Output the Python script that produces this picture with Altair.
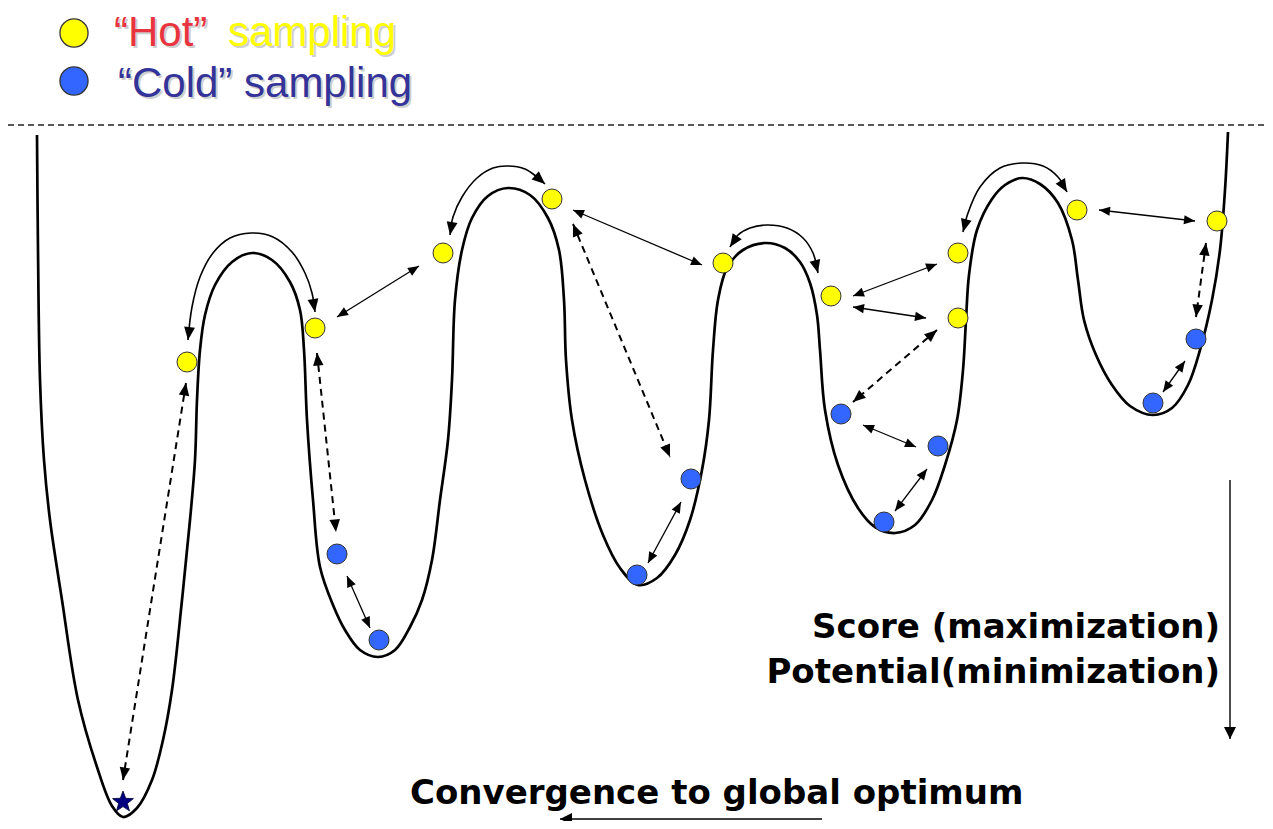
import math
import altair as alt
import pandas as pd

# ---------------- data (pixel-like units) ----------------
W, H = 1257, 813
X0, X1 = 8, 1265
Y0, Y1 = 8, 821

curve_x = [37, 38, 40, 44, 50, 62, 78, 97, 112, 123, 137, 152, 163, 172, 182, 190, 195, 197, 200, 205,
           215, 232, 252, 272, 290, 300, 304, 307, 313, 320, 333, 345, 360, 378, 395, 410, 422, 432, 440, 448,
           452, 455, 462, 472, 488, 508, 530, 548, 559, 564, 566, 572, 585, 603, 620, 638, 657, 675, 690, 702,
           709, 713, 718, 727, 743, 765, 785, 800, 810, 817, 820, 825, 838, 858, 875, 895, 915, 932, 945, 957,
           963, 966, 969, 977, 992, 1005, 1022, 1040, 1058, 1072, 1078, 1084, 1096, 1112, 1130, 1153, 1172, 1188, 1200, 1212,
           1220, 1225, 1228]
curve_y = [135, 250, 380, 460, 520, 600, 700, 767, 806, 817, 808, 780, 740, 690, 600, 520, 460, 400, 350, 315,
           285, 262, 253, 260, 282, 310, 350, 420, 500, 567, 605, 630, 650, 657, 650, 627, 600, 560, 500, 440,
           380, 300, 250, 218, 196, 188, 195, 218, 250, 300, 360, 420, 480, 535, 568, 585, 578, 555, 520, 470,
           420, 350, 300, 268, 250, 243, 248, 262, 283, 315, 350, 410, 465, 508, 527, 533, 525, 500, 465, 420,
           370, 320, 275, 230, 199, 185, 178, 184, 203, 240, 280, 320, 355, 385, 406, 415, 408, 385, 350, 300,
           250, 190, 132]

# curved "jump" arrows over the barriers
arc1_x = [188, 192, 200, 213, 230, 251, 273, 292, 305, 312, 315]
arc1_y = [340, 307, 277, 253, 238, 233, 237, 252, 273, 293, 312]
arc2_x = [450, 453, 462, 477, 493, 508, 525, 537, 545]
arc2_y = [235, 217, 197, 178, 168, 166, 169, 177, 184]
arc3_x = [730, 738, 750, 767, 787, 803, 813, 818]
arc3_y = [247, 235, 228, 225, 228, 238, 253, 273]
arc4_x = [963, 968, 980, 1000, 1022, 1043, 1058, 1067]
arc4_y = [232, 213, 187, 168, 163, 166, 177, 192]

hot_x = [187, 315, 443, 552, 723, 831, 958, 958, 1077, 1217]
hot_y = [362, 328, 253, 199, 263, 296, 253, 318, 210, 221]
cold_x = [337, 379, 637, 691, 841, 938, 884, 1153, 1196]
cold_y = [554, 640, 575, 479, 414, 446, 522, 403, 339]
star_x = [123]
star_y = [802]

solid_x1 = [337, 573, 853, 853, 1099, 347, 648, 863, 895, 1163]
solid_y1 = [317, 210, 296, 307, 210, 576, 563, 425, 511, 392]
solid_x2 = [419, 702, 937, 926, 1195, 370, 681, 916, 927, 1185]
solid_y2 = [266, 265, 264, 318, 221, 628, 502, 447, 469, 361]

dash_x1 = [186, 317, 573, 937, 1206]
dash_y1 = [383, 353, 224, 330, 243]
dash_x2 = [123, 336, 670, 853, 1196]
dash_y2 = [780, 532, 457, 402, 317]

# axis-like direction arrows
dir_x1 = [1230, 822]
dir_y1 = [480, 819]
dir_x2 = [1230, 560]
dir_y2 = [739, 819]

legend_x = [74, 74]
legend_y = [33, 81]
legend_kind = ["hot", "cold"]

sep_y = 125

# ---------------- helpers ----------------
xs = alt.Scale(domain=[X0, X1], nice=False, zero=False)
ys = alt.Scale(domain=[Y0, Y1], nice=False, zero=False, reverse=True)


def X(f):
    return alt.X(f"{f}:Q", scale=xs, axis=None)


def Y(f):
    return alt.Y(f"{f}:Q", scale=ys, axis=None)


HEAD = "M0,0L-0.42,1L0.42,1Z"
WIDE_HEAD = "M0,0L-0.5,1L0.5,1Z"
heads = []


def add_head(tx, ty, fx, fy, L, lst):
    dx, dy = tx - fx, ty - fy
    ang = math.degrees(math.atan2(dx, -dy)) % 360
    lst.append(dict(x=tx, y=ty, ang=ang, size=(2 * L) ** 2))


dir_heads = []
for a, b, c, d in zip(solid_x1, solid_y1, solid_x2, solid_y2):
    add_head(c, d, a, b, 11, heads)
    add_head(a, b, c, d, 11, heads)
for a, b, c, d in zip(dash_x1, dash_y1, dash_x2, dash_y2):
    add_head(c, d, a, b, 12.5, heads)
    add_head(a, b, c, d, 12.5, heads)
for a, b, c, d in zip(dir_x1, dir_y1, dir_x2, dir_y2):
    add_head(c, d, a, b, 12, dir_heads)

arcs = []
for i, (ax, ay) in enumerate([(arc1_x, arc1_y), (arc2_x, arc2_y), (arc3_x, arc3_y), (arc4_x, arc4_y)]):
    for j, (px, py) in enumerate(zip(ax, ay)):
        arcs.append(dict(arc=i, o=j, x=px, y=py))
    add_head(ax[0], ay[0], ax[1], ay[1], 13, heads)
    add_head(ax[-1], ay[-1], ax[-2], ay[-2], 13, heads)

curve_df = pd.DataFrame({"x": curve_x, "y": curve_y, "o": list(range(len(curve_x)))})
arcs_df = pd.DataFrame(arcs)
heads_df = pd.DataFrame(heads)
dir_heads_df = pd.DataFrame(dir_heads)
solid_df = pd.DataFrame({"x": solid_x1, "y": solid_y1, "x2": solid_x2, "y2": solid_y2})
dash_df = pd.DataFrame({"x": dash_x1, "y": dash_y1, "x2": dash_x2, "y2": dash_y2})
dir_df = pd.DataFrame({"x": dir_x1, "y": dir_y1, "x2": dir_x2, "y2": dir_y2})
pts_df = pd.DataFrame({
    "x": hot_x + cold_x,
    "y": hot_y + cold_y,
    "kind": ["hot"] * len(hot_x) + ["cold"] * len(cold_x),
})
leg_df = pd.DataFrame({"x": legend_x, "y": legend_y, "kind": legend_kind})
star_df = pd.DataFrame({"x": star_x, "y": star_y})
sep_df = pd.DataFrame({"x": [X0], "x2": [X1], "y": [sep_y]})

kind_color = alt.Color("kind:N", scale=alt.Scale(domain=["hot", "cold"], range=["#ffff00", "#3366ff"]), legend=None)

# star shape
spts = []
for i in range(10):
    r = 1.0 if i % 2 == 0 else 0.42
    a = math.radians(-90 + 36 * i)
    spts.append(f"{r * math.cos(a):.3f},{r * math.sin(a):.3f}")
STAR = "M" + "L".join(spts) + "Z"

# ---------------- layers ----------------
sep = alt.Chart(sep_df).mark_rule(color="#222222", strokeWidth=1.4, strokeDash=[6, 4]).encode(
    x=X("x"), x2="x2:Q", y=Y("y"))

curve = alt.Chart(curve_df).mark_line(color="black", strokeWidth=2.7, interpolate="catmull-rom").encode(
    x=X("x"), y=Y("y"), order="o:Q")

arcs_l = alt.Chart(arcs_df).mark_line(color="black", strokeWidth=1.6, interpolate="catmull-rom").encode(
    x=X("x"), y=Y("y"), detail="arc:N", order="o:Q")

solid = alt.Chart(solid_df).mark_rule(color="black", strokeWidth=1.3).encode(
    x=X("x"), y=Y("y"), x2="x2:Q", y2="y2:Q")

dashed = alt.Chart(dash_df).mark_rule(color="black", strokeWidth=2, strokeDash=[7, 5]).encode(
    x=X("x"), y=Y("y"), x2="x2:Q", y2="y2:Q")

dirs = alt.Chart(dir_df).mark_rule(color="black", strokeWidth=1.4).encode(
    x=X("x"), y=Y("y"), x2="x2:Q", y2="y2:Q")

heads_l = alt.Chart(heads_df).mark_point(shape=HEAD, filled=True, color="black", opacity=1, strokeWidth=0).encode(
    x=X("x"), y=Y("y"), angle=alt.Angle("ang:Q", scale=None), size=alt.Size("size:Q", scale=None))

dir_heads_l = alt.Chart(dir_heads_df).mark_point(shape=WIDE_HEAD, filled=True, color="black", opacity=1,
                                                 strokeWidth=0).encode(
    x=X("x"), y=Y("y"), angle=alt.Angle("ang:Q", scale=None), size=alt.Size("size:Q", scale=None))

pts = alt.Chart(pts_df).mark_circle(size=400, opacity=1, stroke="#333333", strokeWidth=1).encode(
    x=X("x"), y=Y("y"), color=kind_color)

leg = alt.Chart(leg_df).mark_circle(size=790, opacity=1, stroke="#333333", strokeWidth=1.3).encode(
    x=X("x"), y=Y("y"), color=kind_color)

star = alt.Chart(star_df).mark_point(shape=STAR, size=480, filled=True, color="#000080", opacity=1,
                                     stroke="#000033", strokeWidth=0.8).encode(x=X("x"), y=Y("y"))

# legend texts
lt_x = [114, 228, 118]
lt_y = [46, 46, 97]
lt_text = ["\u201cHot\u201d", "sampling", "\u201cCold\u201d sampling"]
lt_col = ["#e8343f", "#ffff00", "#333399"]
leg_txt_df = pd.DataFrame({"x": lt_x, "y": lt_y, "t": lt_text, "c": lt_col,
                           "xs": [v + 2 for v in lt_x], "ys": [v + 2 for v in lt_y]})
leg_shadow = alt.Chart(leg_txt_df).mark_text(font="Liberation Sans", fontSize=42, align="left",
                                             baseline="alphabetic", color="#cfcfcf").encode(
    x=X("xs"), y=Y("ys"), text="t:N")
leg_txt = alt.Chart(leg_txt_df).mark_text(font="Liberation Sans", fontSize=42, align="left",
                                          baseline="alphabetic").encode(
    x=X("x"), y=Y("y"), text="t:N", color=alt.Color("c:N", scale=None))

# bold labels
lab_df = pd.DataFrame({"x": [1220, 1220], "y": [638, 683],
                       "t": ["Score (maximization)", "Potential(minimization)"]})
labs = alt.Chart(lab_df).mark_text(font="DejaVu Sans", fontWeight="bold", fontSize=34, align="right",
                                   baseline="alphabetic", color="black").encode(
    x=X("x"), y=Y("y"), text="t:N")
conv_df = pd.DataFrame({"x": [410], "y": [804], "t": ["Convergence to global optimum"]})
conv = alt.Chart(conv_df).mark_text(font="DejaVu Sans", fontWeight="bold", fontSize=34, align="left",
                                    baseline="alphabetic", color="black").encode(
    x=X("x"), y=Y("y"), text="t:N")

chart = alt.layer(sep, curve, arcs_l, solid, dashed, dirs, heads_l, dir_heads_l, pts, leg, star,
                  leg_shadow, leg_txt, labs, conv).properties(
    width=W, height=H, padding=0, autosize=alt.AutoSizeParams(type="none"),
    background="white").configure_view(stroke=None)

chart.save("out.html", embed_options={"renderer": "svg", "actions": False})
